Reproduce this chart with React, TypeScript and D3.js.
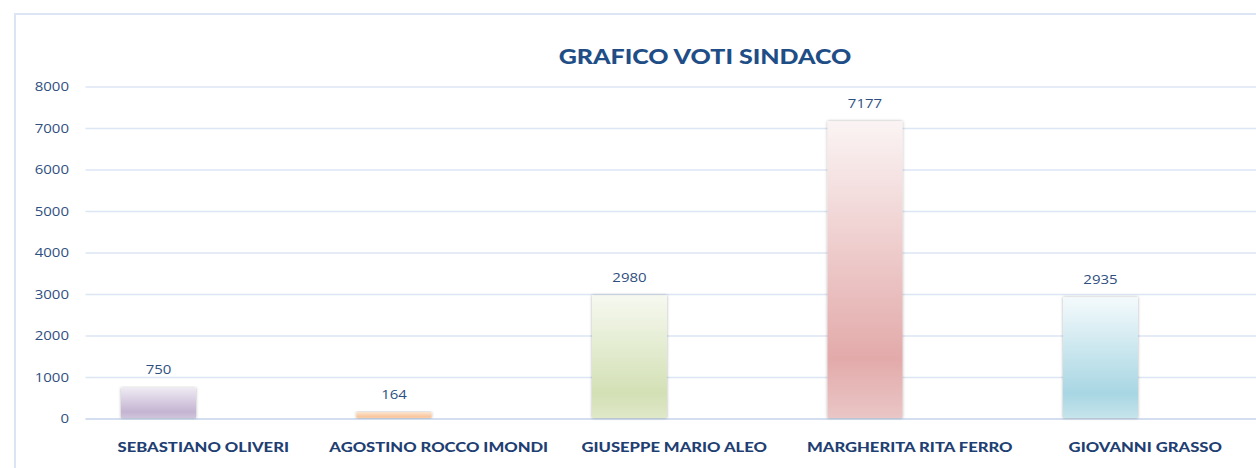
import React from "react";
import * as d3 from "d3";

const categories = [
  "SEBASTIANO OLIVERI",
  "AGOSTINO ROCCO IMONDI",
  "GIUSEPPE MARIO ALEO",
  "MARGHERITA RITA FERRO",
  "GIOVANNI GRASSO",
];
const votes = [750, 164, 2980, 7177, 2935];
const yTicks = [0, 1000, 2000, 3000, 4000, 5000, 6000, 7000, 8000];
const title = "GRAFICO VOTI SINDACO";
// [top, darkest, bottom]
const barColors = [
  ["#eeeaf3", "#c4b4d2", "#d0c4dc"],
  ["#fde3cc", "#f9c59c", "#fbd3b0"],
  ["#f6f9f0", "#d3e0b5", "#dfe8c8"],
  ["#fbf4f4", "#e3aaaa", "#eac6c6"],
  ["#f4fafc", "#a8d6e3", "#c6e4ec"],
];

const W = 1256;
const H = 468;
const plotLeft = 85.5;
const catWidth = 235.5;
const plotRight = plotLeft + catWidth * categories.length;
const y0 = 419;
const yTop = 87;
const barOffset = 35.5;
const barWidth = 75;
const stretch = 1.2;

function SText(props: {
  x: number;
  y: number;
  sx?: number;
  anchor: "start" | "middle" | "end";
  family: string;
  size: number;
  weight?: string;
  fill: string;
  children: React.ReactNode;
}) {
  const s = props.sx ?? stretch;
  return (
    <text
      transform={`translate(${props.x},${props.y}) scale(${s},1)`}
      x={0}
      y={0}
      dy="0.35em"
      textAnchor={props.anchor}
      fontFamily={props.family}
      fontSize={props.size}
      fontWeight={props.weight ?? "normal"}
      fill={props.fill}
    >
      {props.children}
    </text>
  );
}

export default function App() {
  const x = d3
    .scaleBand<string>()
    .domain(categories)
    .range([plotLeft, plotRight])
    .paddingInner(0)
    .paddingOuter(0);
  const y = d3.scaleLinear().domain([0, 8000]).range([y0, yTop]);
  const textColor = "#2f4f80";
  const catColor = "#1f3f73";

  return (
    <svg
      width={W}
      height={H}
      style={{ position: "absolute", left: 0, top: 0, display: "block", background: "#fff" }}
    >
      <defs>
        {barColors.map((c, i) => (
          <linearGradient key={i} id={`g${i}`} x1="0" y1="0" x2="0" y2="1">
            <stop offset="0" stopColor={c[0]} />
            <stop offset="0.8" stopColor={c[1]} />
            <stop offset="1" stopColor={c[2]} />
          </linearGradient>
        ))}
        <filter id="sh" x="-20%" y="-5%" width="140%" height="110%">
          <feDropShadow dx="0" dy="0" stdDeviation="1.8" floodColor="#000" floodOpacity="0.32" />
        </filter>
      </defs>
      {/* frame */}
      <rect x={15} y={14} width={W + 20} height={H + 20} fill="none" stroke="#dbe5f3" strokeWidth={2} />
      {/* title */}
      <SText
        x={705}
        y={57}
        sx={1.22}
        anchor="middle"
        family="Lato, 'Open Sans', sans-serif"
        weight="900"
        size={20.5}
        fill="#1f4e86"
      >
        {title}
      </SText>
      {/* gridlines and y labels */}
      {yTicks.map((t) => (
        <g key={t}>
          <line
            x1={plotLeft}
            x2={plotRight}
            y1={y(t)}
            y2={y(t)}
            stroke={t === 0 ? "#d3dff0" : "#dce6f4"}
            strokeWidth={t === 0 ? 2 : 1.5}
          />
          <SText
            x={69}
            y={y(t)}
            anchor="end"
            family="'Open Sans', sans-serif"
            size={12.5}
            fill={textColor}
          >
            {t}
          </SText>
        </g>
      ))}
      {/* bars */}
      {categories.map((c, i) => {
        const bx = (x(c) as number) + barOffset;
        const by = y(votes[i]);
        return (
          <g key={c}>
            <rect
              x={bx}
              y={by}
              width={barWidth}
              height={y0 - by - 1}
              fill={`url(#g${i})`}
              filter="url(#sh)"
            />
            <SText
              x={bx + barWidth / 2}
              y={by - 18}
              anchor="middle"
              family="'Open Sans', sans-serif"
              size={12.5}
              fill={textColor}
            >
              {votes[i]}
            </SText>
          </g>
        );
      })}
      {/* category labels */}
      {categories.map((c) => (
        <SText
          key={c}
          x={(x(c) as number) + x.bandwidth() / 2}
          y={447}
          sx={1.23}
          anchor="middle"
          family="Lato, sans-serif"
          weight="900"
          size={13.5}
          fill={catColor}
        >
          {c}
        </SText>
      ))}
    </svg>
  );
}
